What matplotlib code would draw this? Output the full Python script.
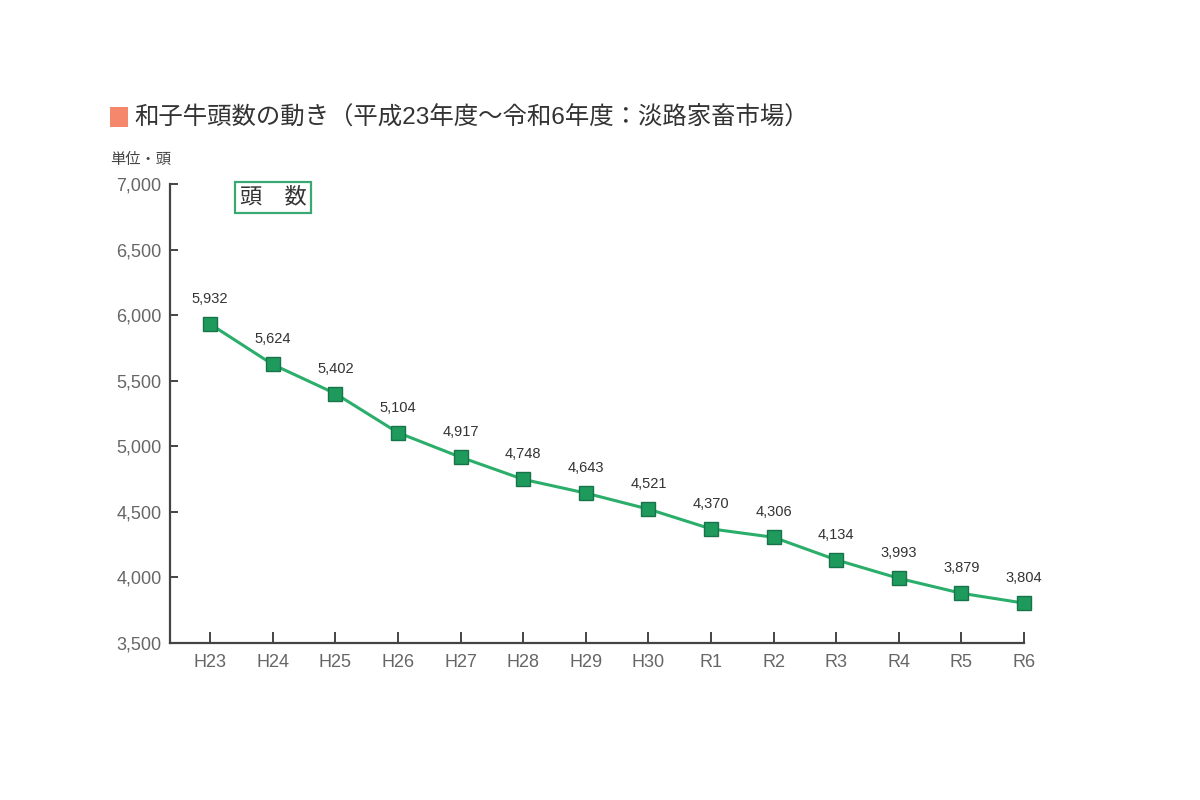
import matplotlib.pyplot as plt
from matplotlib.patches import Rectangle

plt.rcParams['font.family'] = ['Liberation Sans', 'Noto Sans CJK JP', 'DejaVu Sans']

years = ['H23', 'H24', 'H25', 'H26', 'H27', 'H28', 'H29', 'H30',
         'R1', 'R2', 'R3', 'R4', 'R5', 'R6']
heads = [5932, 5624, 5402, 5104, 4917, 4748, 4643, 4521,
         4370, 4306, 4134, 3993, 3879, 3804]

line_col = '#2aae6a'
mark_col = '#1e9a5c'
edge_col = '#17734a'
axis_col = '#444444'
tick_col = '#666666'

fig = plt.figure(figsize=(12, 8), dpi=100)
ax = fig.add_axes([0.1417, 0.19625, 0.7117, 0.57375])

xs = list(range(len(years)))
ax.plot(xs, heads, color=line_col, lw=2.2, marker='s', ms=9.5,
        mfc=mark_col, mec=edge_col, mew=1.0, zorder=3, clip_on=False)

for x, v in zip(xs, heads):
    ax.annotate(f'{v:,}', (x, v), xytext=(0, 13), textcoords='offset points',
                ha='center', va='bottom', fontsize=10.5, color='#333333')

ax.set_xlim(-0.64, 13)
ax.set_ylim(3500, 7000)
ax.set_yticks(range(3500, 7001, 500))
ax.set_yticklabels([f'{t:,}' for t in range(3500, 7001, 500)])
ax.set_xticks(xs)
ax.set_xticklabels(years)

for s in ['top', 'right']:
    ax.spines[s].set_visible(False)
for s in ['left', 'bottom']:
    ax.spines[s].set_color(axis_col)
    ax.spines[s].set_linewidth(1.6)

ax.tick_params(axis='y', direction='in', length=6, width=1.4, color=axis_col,
               labelsize=13, labelcolor=tick_col, pad=6)
ax.tick_params(axis='x', direction='in', length=8, width=1.4, color=axis_col,
               labelsize=13, labelcolor=tick_col, pad=8)

# legend box
ax.text(0.1206, 0.9706, '頭　数', transform=ax.transAxes, fontsize=16,
        color='#333333', ha='center', va='center',
        bbox=dict(boxstyle='square,pad=0.22', fc='white', ec='#3aa872', lw=1.6))

# title
fig.patches.append(Rectangle((110 / 1200, 1 - 127 / 800), 18 / 1200, 20 / 800,
                             transform=fig.transFigure, fc='#f4876c', ec='none'))
fig.text(134 / 1200, 1 - 117 / 800, '和子牛頭数の動き（平成23年度～令和6年度：淡路家畜市場）',
         fontsize=17.6, color='#333333', va='center', ha='left')
fig.text(110 / 1200, 1 - 160 / 800, '単位・頭', fontsize=11, color='#444444',
         va='center', ha='left')

fig.savefig('out.png', dpi=100, facecolor='white')
